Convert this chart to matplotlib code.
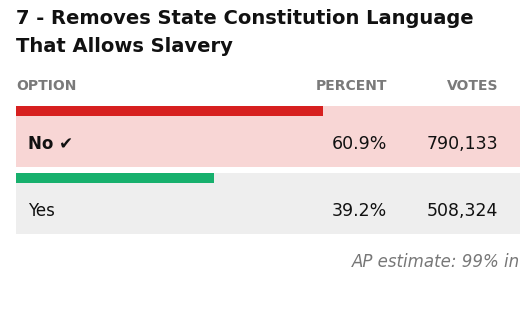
import matplotlib.pyplot as plt

title = ["7 - Removes State Constitution Language", "That Allows Slavery"]
headers = ["OPTION", "PERCENT", "VOTES"]
options = ["No \u2714", "Yes"]
percents = [60.9, 39.2]
votes = ["790,133", "508,324"]
winner = [True, False]
note = "AP estimate: 99% in"

bar_colors = ["#d7201f", "#17b06d"]
row_colors = ["#f8d6d5", "#eeeeee"]

plt.rcParams['font.family'] = ['DejaVu Sans']

fig = plt.figure(figsize=(5.32, 3.10), dpi=100)
ax = fig.add_axes([0, 0, 1, 1])
ax.set_xlim(0, 532)
ax.set_ylim(310, 0)
ax.axis("off")

left, width = 16, 504
row_top = [106, 173]
row_h = 61
bar_h = 10

for i in range(len(options)):
    # row background then the share bar on top
    ax.barh(row_top[i], width, height=row_h, left=left, align="edge", color=row_colors[i])
    ax.barh(row_top[i], percents[i] / 100 * width, height=bar_h, left=left, align="edge", color=bar_colors[i])
    yc = row_top[i] + 38
    ax.text(28, yc, options[i], fontsize=12, fontweight="bold" if winner[i] else "normal",
            color="#111111", va="center", ha="left")
    ax.text(387, yc, f"{percents[i]:.1f}%", fontsize=12.5, color="#111111", va="center", ha="right")
    ax.text(498, yc, votes[i], fontsize=12.5, color="#111111", va="center", ha="right")

ax.text(16, 18, title[0], fontsize=14, fontweight="bold", color="#111111", va="center", ha="left")
ax.text(16, 47, title[1], fontsize=14, fontweight="bold", color="#111111", va="center", ha="left")

hx = [16, 387, 498]
ha = ["left", "right", "right"]
for h, x, a in zip(headers, hx, ha):
    ax.text(x, 86, h, fontsize=10, fontweight="bold", color="#7a7a7a", va="center", ha=a)

ax.text(520, 262, note, fontsize=12, style="italic", color="#777777", va="center", ha="right")

fig.savefig("out.png", dpi=100)
